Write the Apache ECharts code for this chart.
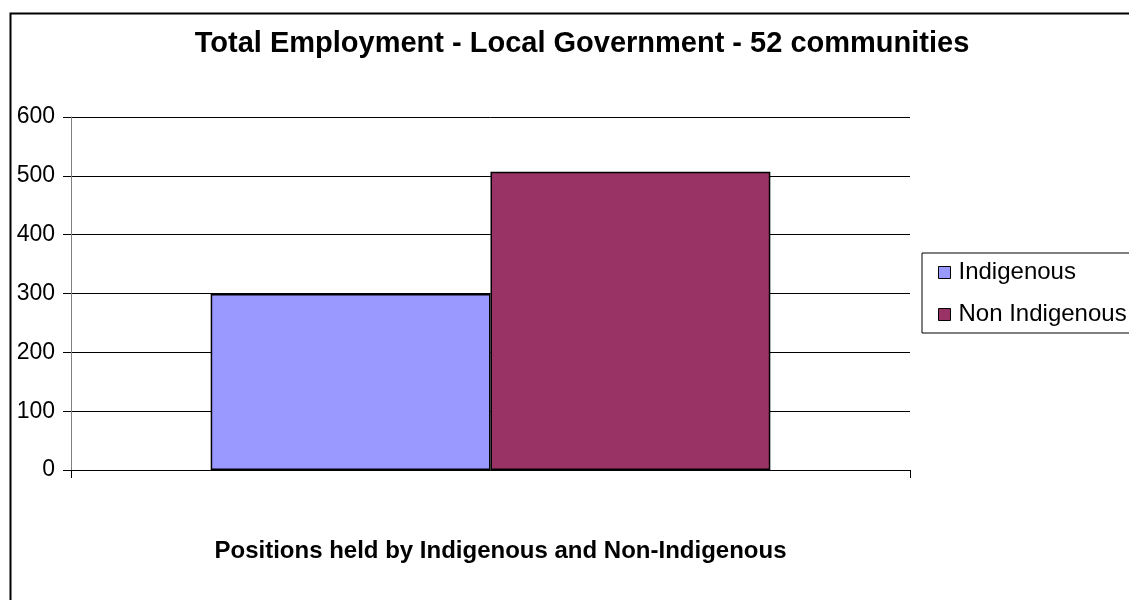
<!DOCTYPE html>
<html>
<head>
<meta charset="utf-8">
<title>Total Employment - Local Government</title>
<script src="https://cdn.jsdelivr.net/npm/echarts@6/dist/echarts.min.js"></script>
<style>
  html, body { margin: 0; padding: 0; background: #fff; }
  #chart { width: 1129px; height: 600px; }
</style>
</head>
<body>
<div id="chart"></div>
<script>
// data
const categories = ['']
const seriesNames = ['Indigenous', 'Non Indigenous']
const seriesValues = [299, 507]
const seriesColors = ['#9999ff', '#993366']
const yTicks = [0, 100, 200, 300, 400, 500, 600]

const font = '"Liberation Sans", Arial, sans-serif'

const chart = echarts.init(document.getElementById('chart'), null, { renderer: 'canvas' })

chart.setOption({
  backgroundColor: '#fff',
  animation: false,
  textStyle: { fontFamily: font, color: '#000' },
  graphic: [{
    // outer chart frame (runs off the right and bottom edge)
    type: 'rect',
    shape: { x: 10.5, y: 13.5, width: 1140, height: 620 },
    style: { fill: 'none', stroke: '#000', lineWidth: 2 },
    silent: true
  }],
  title: {
    text: 'Total Employment - Local Government - 52 communities',
    left: 577,
    textAlign: 'center',
    top: 24,
    textStyle: { fontFamily: font, fontSize: 29, fontWeight: 'bold', color: '#000' }
  },
  legend: {
    orient: 'vertical',
    left: 922,
    top: 253,
    padding: [6, 3, 5, 16],
    itemGap: 15,
    itemWidth: 12,
    itemHeight: 12,
    borderColor: '#000',
    borderWidth: 1,
    icon: 'rect',
    textStyle: { fontFamily: font, fontSize: 24, color: '#000', lineHeight: 27, padding: [0, 0, 0, 3] },
    itemStyle: { borderColor: '#000', borderWidth: 1 },
    data: seriesNames
  },
  grid: {
    left: 71,
    right: 219,
    top: 117,
    bottom: 130,
    containLabel: false
  },
  xAxis: {
    type: 'category',
    data: categories,
    name: 'Positions held by Indigenous and Non-Indigenous',
    nameLocation: 'middle',
    nameGap: 69,
    nameTextStyle: { fontFamily: font, fontSize: 24, fontWeight: 'bold', color: '#000', padding: [0, 0, 0, 20] },
    axisLine: { lineStyle: { color: '#000', width: 1 } },
    axisTick: { show: true, length: 8, lineStyle: { color: '#000' } },
    axisLabel: { show: false },
    splitLine: { show: false }
  },
  yAxis: {
    type: 'value',
    min: yTicks[0],
    max: yTicks[yTicks.length - 1],
    interval: 100,
    axisLine: { show: true, lineStyle: { color: '#808080', width: 1 } },
    axisTick: { show: true, length: 8, lineStyle: { color: '#000' } },
    axisLabel: { fontFamily: font, fontSize: 23, color: '#000', margin: 16 },
    splitLine: { show: true, lineStyle: { color: '#000', width: 1 } }
  },
  series: seriesNames.map((name, i) => ({
    name: name,
    type: 'bar',
    barGap: '0%',
    barCategoryGap: '33.3%',
    data: [seriesValues[i]],
    itemStyle: { color: seriesColors[i], borderColor: '#000', borderWidth: 1.5 }
  }))
})
</script>
</body>
</html>
